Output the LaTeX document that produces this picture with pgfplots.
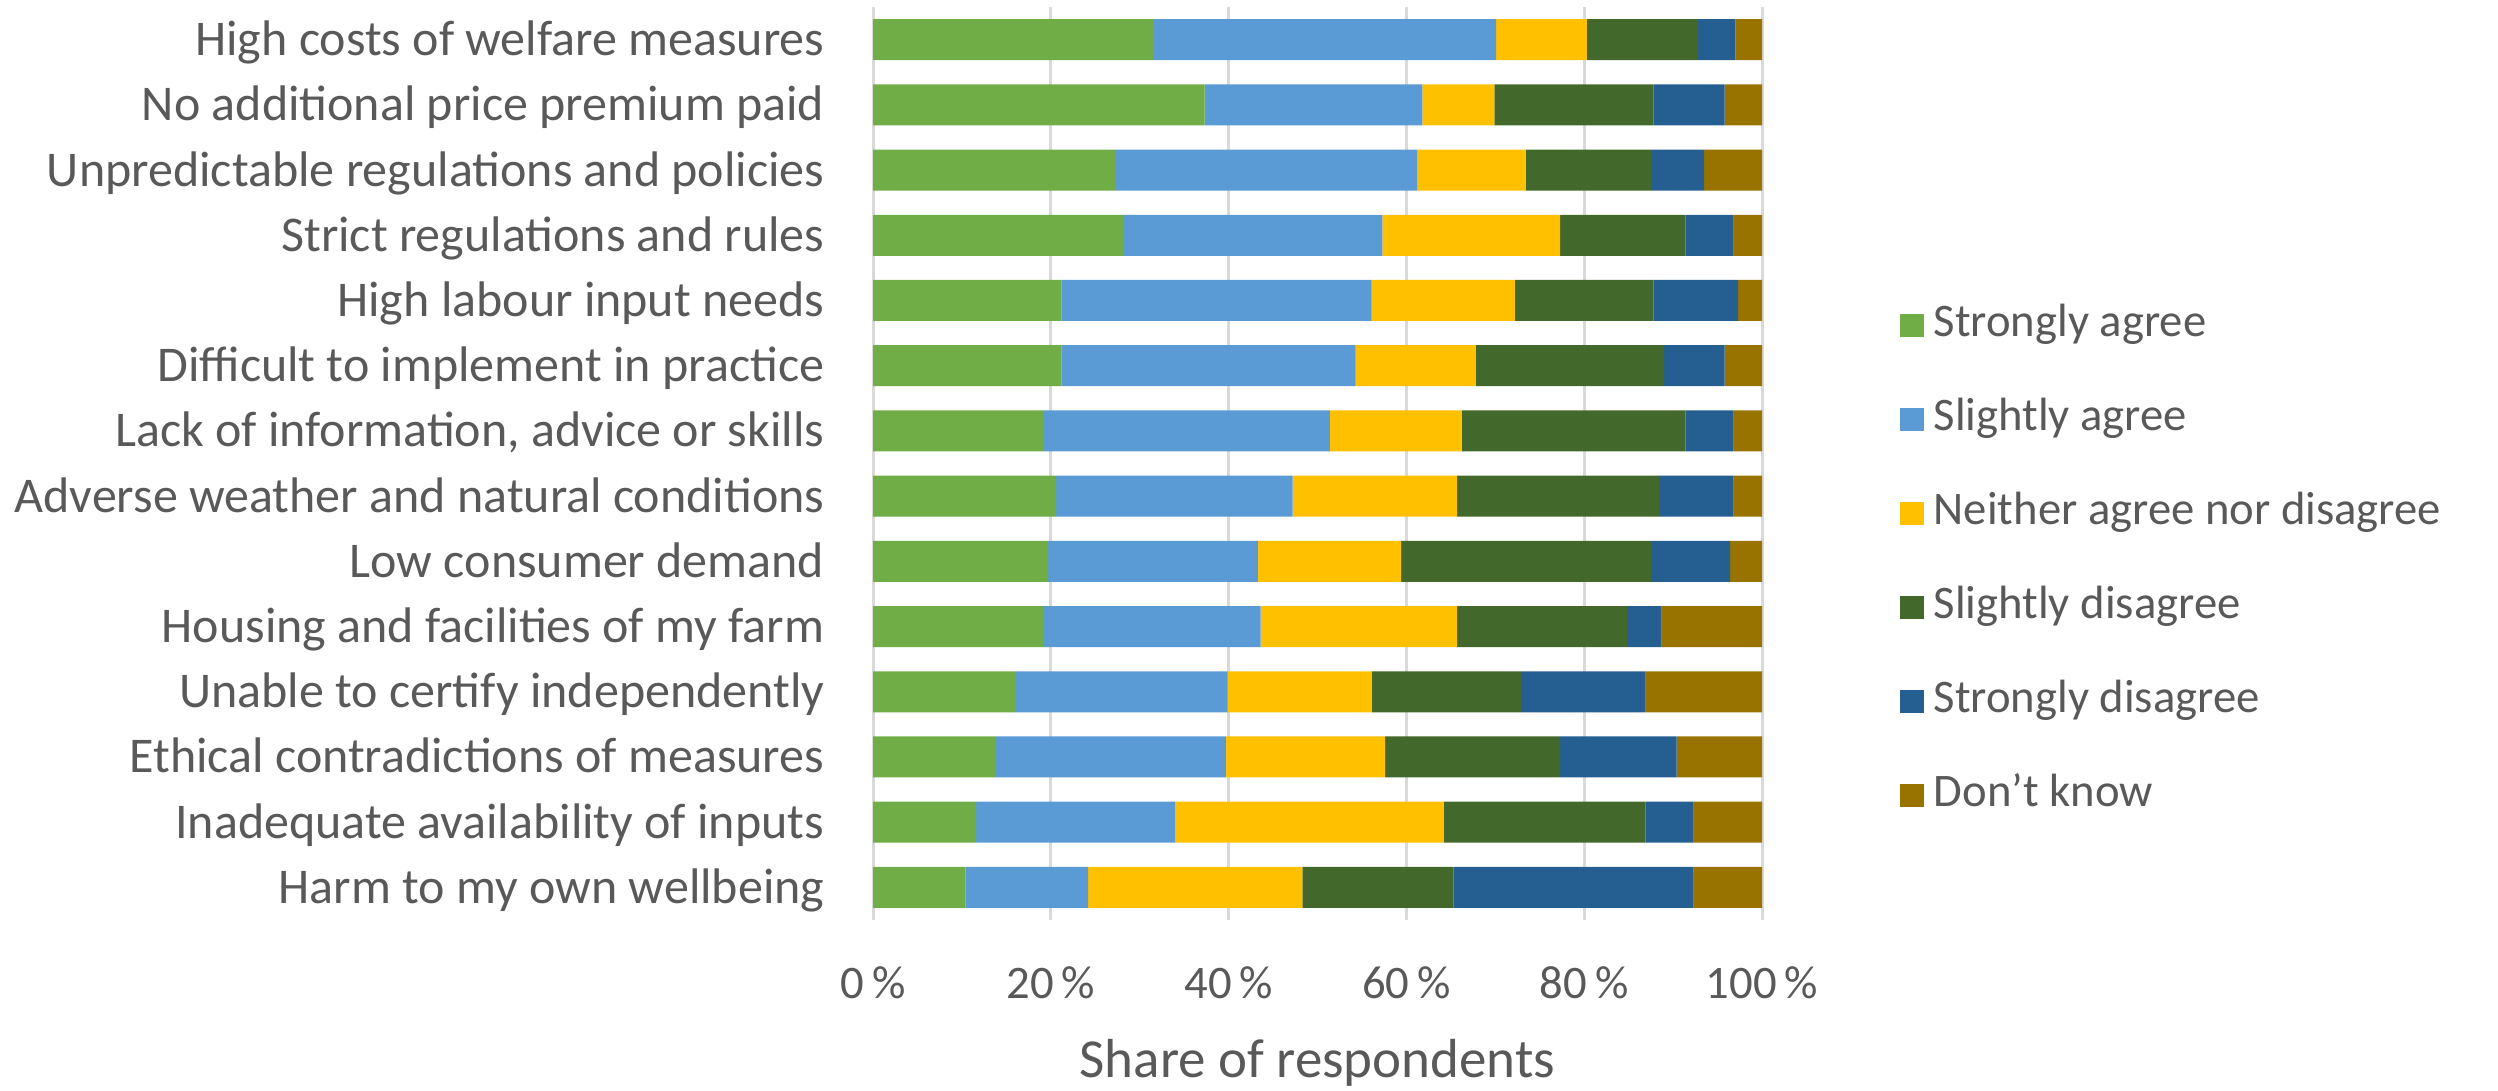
\documentclass[border=0pt]{standalone}
\usepackage{pgfplots}
\usepackage{pgfplotstable}
\pgfplotsset{compat=1.18}
\usepackage{fontspec}
\setmainfont{Carlito}

\definecolor{sagree}{HTML}{70AD47}
\definecolor{lagree}{HTML}{5B9BD5}
\definecolor{neither}{HTML}{FFC000}
\definecolor{ldisagree}{HTML}{43682B}
\definecolor{sdisagree}{HTML}{255E91}
\definecolor{dontknow}{HTML}{997300}
\definecolor{textgray}{HTML}{595959}
\definecolor{gridgray}{HTML}{D9D9D9}

% Share of respondents (%) per barrier, top row first
\pgfplotstableread{
row sa   sl   ne   sd   st   dk
0   31.6 38.5 10.2 12.5 4.2  3.0
1   37.3 24.5 8.1  17.9 8.0  4.2
2   27.2 34.0 12.2 14.1 6.0  6.5
3   28.1 29.2 20.0 14.1 5.4  3.2
4   21.2 34.9 16.1 15.6 9.5  2.7
5   21.2 33.1 13.5 21.2 6.8  4.2
6   19.1 32.3 14.8 25.2 5.4  3.2
7   20.6 26.6 18.5 22.7 8.4  3.2
8   19.7 23.6 16.1 28.1 8.9  3.6
9   19.1 24.5 22.1 19.1 3.9  11.3
10  16.0 23.9 16.2 16.8 14.0 13.1
11  13.7 26.0 17.9 19.7 13.1 9.6
12  11.6 22.4 30.2 22.7 5.4  7.7
13  10.4 13.8 24.1 17.0 27.0 7.7
}\barriers

\begin{document}
\begin{tikzpicture}
\useasboundingbox (0,0) rectangle (749.4bp,327.3bp);
\begin{axis}[
  at={(261.9bp,51.3bp)}, anchor=south west,
  scale only axis, width=266.7bp, height=273.9bp,
  xbar stacked, bar width=12.3bp,
  xmin=0, xmax=100, ymin=-0.5, ymax=13.5, y dir=reverse,
  ytick={0,...,13},
  yticklabels={
    High costs of welfare measures,
    No additional price premium paid,
    Unpredictable regulations and policies,
    Strict regulations and rules\ ,
    High labour input needs,
    Difficult to implement in practice,
    {Lack of information, advice or skills},
    Adverse weather and natural conditions,
    Low consumer demand,
    Housing and facilities of my farm,
    Unable to certify independently,
    Ethical contradictions of measures,
    Inadequate availability of inputs,
    Harm to my own wellbeing\ },
  xtick={0,20,...,100},
  xticklabels={0\,\%,20\,\%,40\,\%,60\,\%,80\,\%,100\,\%},
  xmajorgrids, grid style={draw=gridgray, line width=0.9bp},
  axis line style={draw=none}, major tick length=0pt,
  tick label style={text=textgray, inner sep=0pt},
  yticklabel style={font=\fontsize{15bp}{18bp}\selectfont, anchor=base east, xshift=-14.4bp, yshift=-4.8bp},
  xticklabel style={font=\fontsize{14bp}{17bp}\selectfont, anchor=base, yshift=-23.4bp},
  xlabel={Share of respondents},
  xlabel style={at={(axis description cs:0.5,0)}, anchor=base, yshift=-47.3bp,
    font=\fontsize{16.5bp}{19bp}\selectfont, text=textgray, inner sep=0pt},
  legend cell align=left,
  legend style={at={(axis description cs:1.155,0.393)}, anchor=west, draw=none, fill=none,
    inner sep=0pt, font=\fontsize{14bp}{17bp}\selectfont, text=textgray,
    row sep=15.2bp,
    nodes={inner sep=0pt, text height=9.5bp, text depth=3.5bp},
    /tikz/every odd column/.append style={column sep=3bp}},
  legend image code/.code={\fill[#1] (0bp,-3.2bp) rectangle (7bp,3.8bp);},
]
\addplot[fill=sagree, draw=none] table[x=sa, y=row] {\barriers};
\addplot[fill=lagree, draw=none] table[x=sl, y=row] {\barriers};
\addplot[fill=neither, draw=none] table[x=ne, y=row] {\barriers};
\addplot[fill=ldisagree, draw=none] table[x=sd, y=row] {\barriers};
\addplot[fill=sdisagree, draw=none] table[x=st, y=row] {\barriers};
\addplot[fill=dontknow, draw=none] table[x=dk, y=row] {\barriers};
\legend{Strongly agree, Slightly agree, Neither agree nor disagree, Slightly disagree, Strongly disagree, Don’t know}
\end{axis}
\end{tikzpicture}
\end{document}
